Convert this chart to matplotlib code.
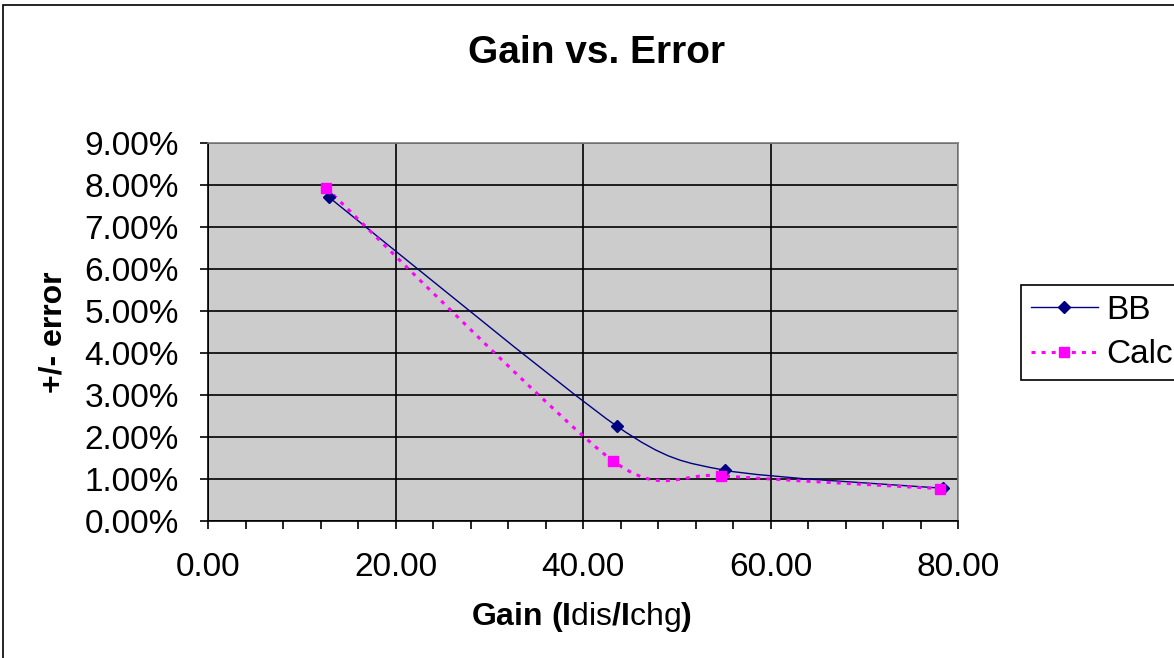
import numpy as np
import matplotlib
matplotlib.use("Agg")
import matplotlib.pyplot as plt
from matplotlib.path import Path
from matplotlib.patches import PathPatch, Rectangle
from matplotlib.lines import Line2D
from matplotlib.ticker import MultipleLocator, PercentFormatter, FormatStrFormatter

plt.rcParams['font.family'] = ['Liberation Sans', 'DejaVu Sans']
plt.rcParams['mathtext.fontset'] = 'custom'
plt.rcParams['mathtext.rm'] = 'Liberation Sans'
plt.rcParams['mathtext.bf'] = 'Liberation Sans:bold'
plt.rcParams['mathtext.it'] = 'Liberation Sans:italic'

# data (error in %)
gain_bb = [12.9, 43.6, 55.1, 78.4]
err_bb = [7.71, 2.26, 1.21, 0.78]
gain_calc = [12.6, 43.2, 54.7, 78.1]
err_calc = [7.93, 1.43, 1.08, 0.77]
labels = ["BB", "Calc"]

navy = "#000080"
pink = "#ff00ff"

# smoothed line (bezier through the points, like excel)
def smooth_path(x, y, k=1/8):
    p = np.column_stack([x, y]).astype(float)
    n = len(p)
    verts = [p[0]]
    codes = [Path.MOVETO]
    for i in range(n - 1):
        prev = p[i - 1] if i > 0 else p[i]
        nxt = p[i + 2] if i + 2 < n else p[i + 1]
        c1 = p[i] + (p[i + 1] - prev) * k
        c2 = p[i + 1] - (nxt - p[i]) * k
        verts += [c1, c2, p[i + 1]]
        codes += [Path.CURVE4] * 3
    return Path(verts, codes)

fig = plt.figure(figsize=(11.74, 6.58), dpi=100)
ax = fig.add_axes([208/1174, 1-521/658, 750/1174, 378/658])
ax.set_facecolor("#cccccc")

ax.add_patch(PathPatch(smooth_path(gain_bb, err_bb), fill=False, edgecolor=navy, lw=1.0, zorder=3))
ax.add_patch(PathPatch(smooth_path(gain_calc, err_calc), fill=False, edgecolor=pink, lw=2.2,
                       linestyle=(0, (1.3, 2.0)), zorder=3))
ax.plot(gain_bb, err_bb, linestyle="none", marker="D", ms=6.5, color=navy, zorder=4)
ax.plot(gain_calc, err_calc, linestyle="none", marker="s", ms=7, color=pink, zorder=4)

ax.set_xlim(0, 80)
ax.set_ylim(0, 9)
ax.xaxis.set_major_locator(MultipleLocator(20))
ax.xaxis.set_minor_locator(MultipleLocator(4))
ax.yaxis.set_major_locator(MultipleLocator(1))
ax.xaxis.set_major_formatter(FormatStrFormatter("%.2f"))
ax.yaxis.set_major_formatter(PercentFormatter(xmax=100, decimals=2))
ax.tick_params(axis="both", which="both", direction="out", length=6, width=1.2, color="black",
               labelsize=24)
ax.tick_params(axis="x", pad=16)
ax.tick_params(axis="y", pad=15)
ax.tick_params(top=False, right=False)
ax.grid(True, which="major", color="black", lw=1.2)
ax.set_axisbelow(True)
for s in ["left", "bottom"]:
    ax.spines[s].set_color("black")
    ax.spines[s].set_linewidth(1.2)
for s in ["top", "right"]:
    ax.spines[s].set_color("#808080")
    ax.spines[s].set_linewidth(1.2)

fig.text(597/1174, 1-53/658, "Gain vs. Error", ha="center", va="center", fontsize=28, fontweight="bold")
fig.text(53/1174, 1-332/658, "+/- error", ha="center", va="center", rotation=90, fontsize=23,
         fontweight="bold")
fig.text(581/1174, 1-617/658, r"$\mathbf{Gain\ (I}\mathrm{dis}\mathbf{/I}\mathrm{chg}\mathbf{)}$",
         ha="center", va="center", fontsize=23)

handles = [Line2D([], [], color=navy, lw=1.0, marker="D", ms=6.5),
           Line2D([], [], color=pink, lw=2.2, linestyle=(0, (1.3, 2.0)), marker="s", ms=7)]
leg = fig.legend(handles, labels, loc="upper left", bbox_to_anchor=(1021/1174, 1-285/658),
                 borderaxespad=0, fontsize=24, handlelength=2.0, handletextpad=0.25,
                 labelspacing=0.4, borderpad=0.3, fancybox=False, framealpha=1)
leg.get_frame().set_edgecolor("black")
leg.get_frame().set_linewidth(1.2)

# chart border
fig.patches.append(Rectangle((3/1174, -0.1), 1.2, 1-5/658 + 0.1, transform=fig.transFigure,
                             fill=False, edgecolor="black", lw=1.2))

fig.savefig("out.png", dpi=100)
